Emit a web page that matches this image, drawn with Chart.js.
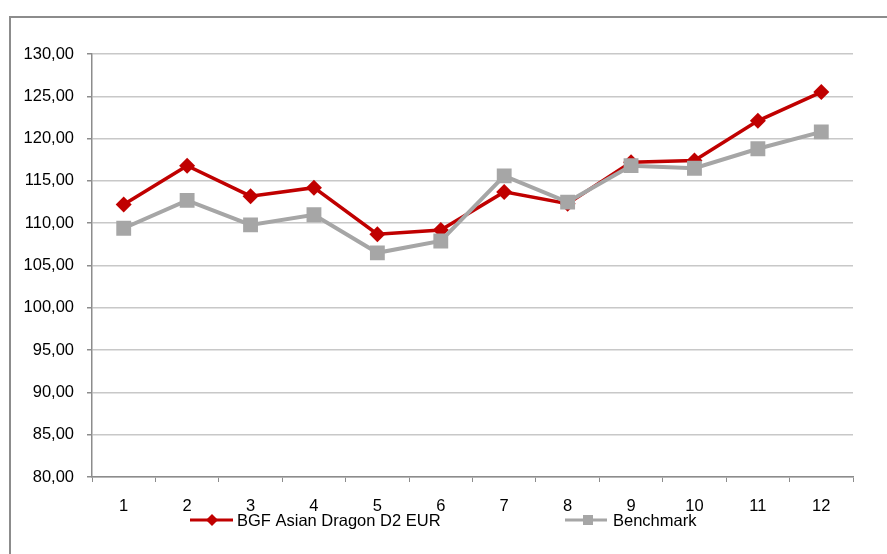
<!DOCTYPE html>
<html>
<head>
<meta charset="utf-8">
<script src="https://cdn.jsdelivr.net/npm/chart.js@4"></script>
<style>
html,body{margin:0;padding:0;background:#fff;}
#wrap{position:relative;width:887px;height:554px;}
</style>
</head>
<body>
<div id="wrap"><canvas id="c" width="887" height="554"></canvas></div>
<script>
const categories = ['1','2','3','4','5','6','7','8','9','10','11','12'];
const fundName = 'BGF Asian Dragon D2 EUR';
const benchName = 'Benchmark';
const fundValues = [112.2, 116.8, 113.2, 114.2, 108.7, 109.2, 113.7, 112.3, 117.2, 117.4, 122.1, 125.5];
const benchValues = [109.4, 112.7, 109.8, 111.0, 106.5, 107.9, 115.6, 112.5, 116.8, 116.5, 118.8, 120.8];
const yTicks = [80, 85, 90, 95, 100, 105, 110, 115, 120, 125, 130];

const RED = '#c00000';
const GRAY = '#a6a6a6';
const FONT = 'Liberation Sans, Arial, sans-serif';

const framePlugin = {
  id: 'frame',
  beforeDraw(chart) {
    const ctx = chart.ctx;
    ctx.save();
    ctx.fillStyle = '#fff';
    ctx.fillRect(0, 0, chart.width, chart.height);
    ctx.strokeStyle = '#8c8c8c';
    ctx.lineWidth = 2;
    ctx.strokeRect(10, 17, 1000, 1000);
    ctx.restore();
  },
  afterDraw(chart) {
    const ctx = chart.ctx;
    ctx.save();
    const y = 520;
    // red item
    ctx.strokeStyle = RED; ctx.lineWidth = 3;
    ctx.beginPath(); ctx.moveTo(190, y); ctx.lineTo(233, y); ctx.stroke();
    ctx.fillStyle = RED;
    ctx.beginPath(); ctx.moveTo(212, y - 6); ctx.lineTo(218, y); ctx.lineTo(212, y + 6); ctx.lineTo(206, y); ctx.closePath(); ctx.fill();
    // gray item
    ctx.strokeStyle = GRAY; ctx.lineWidth = 3;
    ctx.beginPath(); ctx.moveTo(565, y); ctx.lineTo(607, y); ctx.stroke();
    ctx.fillStyle = GRAY;
    ctx.fillRect(583, y - 5, 10, 10);
    ctx.fillStyle = '#000';
    ctx.font = '16.5px ' + FONT;
    ctx.textBaseline = 'middle';
    ctx.textAlign = 'left';
    ctx.fillText(fundName, 237, y + 1);
    ctx.fillText(benchName, 613, y + 1);
    ctx.restore();
  }
};

new Chart(document.getElementById('c'), {
  type: 'line',
  data: {
    labels: categories,
    datasets: [
      {
        label: fundName,
        data: fundValues,
        order: 1,
        borderColor: RED,
        backgroundColor: RED,
        borderWidth: 3.5,
        pointStyle: 'rectRot',
        pointRadius: 8,
        pointHoverRadius: 8,
        pointBorderWidth: 0,
        tension: 0
      },
      {
        label: benchName,
        data: benchValues,
        order: 0,
        borderColor: GRAY,
        backgroundColor: GRAY,
        borderWidth: 4,
        pointStyle: 'rect',
        pointRadius: 10.5,
        pointHoverRadius: 10.5,
        pointBorderWidth: 0,
        tension: 0
      }
    ]
  },
  options: {
    responsive: false,
    animation: false,
    events: [],
    layout: { padding: { left: 0, top: 54, right: 34, bottom: 0 } },
    plugins: { legend: { display: false }, tooltip: { enabled: false } },
    scales: {
      x: {
        offset: true,
        grid: { display: true, drawOnChartArea: false, drawTicks: true, offset: true, tickLength: 5, tickColor: '#8c8c8c', lineWidth: 1 },
        border: { display: true, color: '#8c8c8c', width: 1.5 },
        ticks: { color: '#000', font: { family: FONT, size: 16.5 }, padding: 15, maxRotation: 0, autoSkip: false },
        afterFit(scale) { scale.height = 77; }
      },
      y: {
        min: 80, max: 130,
        afterBuildTicks(scale) { scale.ticks = yTicks.map(v => ({ value: v })); },
        grid: { color: '#c8c8c8', lineWidth: 1.5, tickLength: 5, tickColor: '#8c8c8c', drawTicks: true },
        border: { display: true, color: '#8c8c8c', width: 1.5 },
        ticks: {
          color: '#000', font: { family: FONT, size: 16.5 }, padding: 13,
          callback: v => Number(v).toFixed(2).replace('.', ',')
        },
        afterFit(scale) { scale.width = 92; }
      }
    }
  },
  plugins: [framePlugin]
});
</script>
</body>
</html>
